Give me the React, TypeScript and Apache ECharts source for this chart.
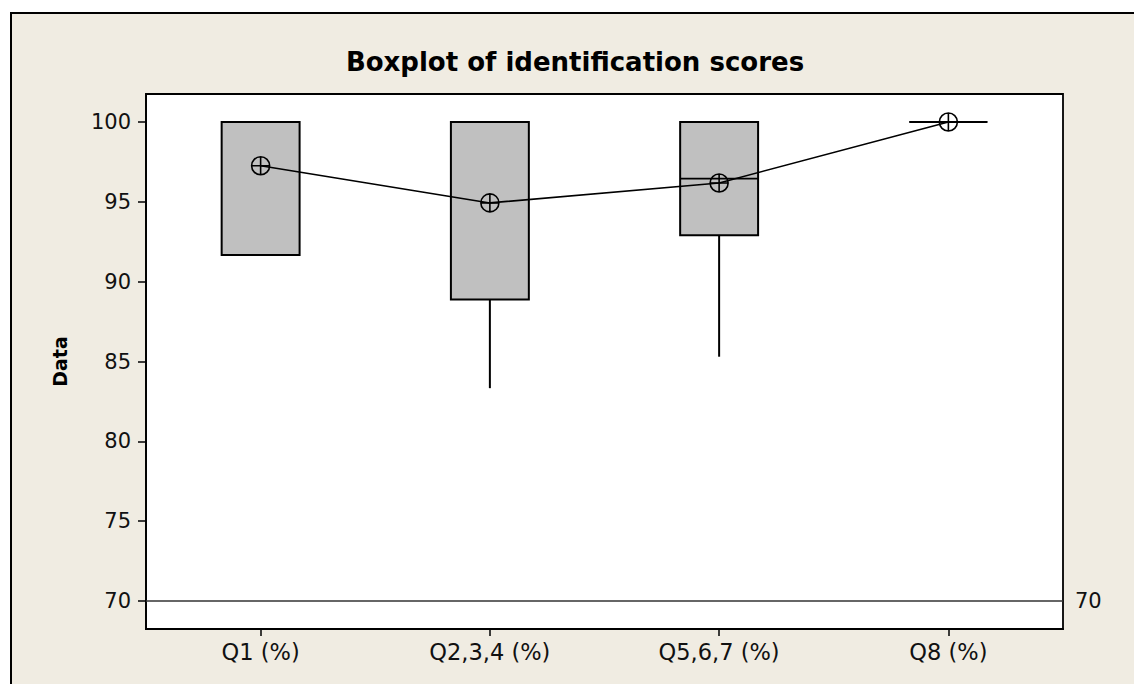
import React, { useEffect, useRef } from "react";
import * as echarts from "echarts";

const categories = ["Q1 (%)", "Q2,3,4 (%)", "Q5,6,7 (%)", "Q8 (%)"];
// [min, Q1, median, Q3, max]
const boxStats = [
  [91.67, 91.67, 100, 100, 100],
  [83.33, 88.89, 100, 100, 100],
  [85.3, 92.9, 96.45, 100, 100],
  [100, 100, 100, 100, 100],
];
const means = [97.26, 94.93, 96.18, 100];
const yTicks = [70, 75, 80, 85, 90, 95, 100];
const refValue = 70;

const FONT = '"DejaVu Sans", Verdana, sans-serif';

export default function App() {
  const ref = useRef<HTMLDivElement>(null);
  useEffect(() => {
    if (!ref.current) return;
    const chart = echarts.init(ref.current, undefined, { renderer: "svg" });
    const boxData = boxStats.map((s, i) => [i, ...s]);
    const option: any = {
      animation: false,
      backgroundColor: "#ffffff",
      textStyle: { fontFamily: FONT },
      graphic: [
        {
          type: "rect",
          z: -100,
          shape: { x: 11, y: 13, width: 1200, height: 720 },
          style: { fill: "#F0ECE2", stroke: "#000", lineWidth: 2 },
          silent: true,
        },
        {
          type: "text",
          x: 575,
          y: 62,
          style: {
            text: "Boxplot of identification scores",
            textAlign: "center",
            textVerticalAlign: "middle",
            font: `bold 26px ${FONT}`,
            fill: "#000",
          },
        },
      ],
      grid: {
        left: 146,
        top: 94,
        right: 71,
        bottom: 55,
        show: true,
        backgroundColor: "#ffffff",
        borderColor: "#000",
        borderWidth: 1.8,
      },
      xAxis: {
        type: "category",
        data: categories,
        axisLine: { show: true, lineStyle: { color: "#000", width: 1.8 } },
        axisTick: { show: true, alignWithLabel: true, length: 7, lineStyle: { color: "#000", width: 1.5 } },
        axisLabel: { color: "#111", fontSize: 22.5, margin: 11, fontFamily: FONT },
        splitLine: { show: false },
      },
      yAxis: {
        type: "value",
        min: 68.25,
        max: 101.75,
        name: "Data",
        nameLocation: "middle",
        nameRotate: 90,
        nameGap: 77,
        nameTextStyle: { fontSize: 19, fontWeight: "bold", color: "#000", fontFamily: FONT },
        axisLine: { show: true, lineStyle: { color: "#000", width: 1.8 } },
        axisTick: { show: true, length: 8, customValues: yTicks, lineStyle: { color: "#000", width: 1.5 } },
        axisLabel: { color: "#111", fontSize: 21, margin: 15, customValues: yTicks, fontFamily: FONT },
        splitLine: { show: false },
      },
      series: [
        {
          type: "custom",
          data: boxData,
          encode: { x: 0, y: [1, 2, 3, 4, 5] },
          z: 2,
          renderItem: (params: any, api: any) => {
            const x = api.value(0);
            const vMin = api.value(1);
            const vQ1 = api.value(2);
            const vMed = api.value(3);
            const vQ3 = api.value(4);
            const vMax = api.value(5);
            const half = (api.size([1, 0])[0] * 0.34) / 2;
            const pMin = api.coord([x, vMin]);
            const pQ1 = api.coord([x, vQ1]);
            const pMed = api.coord([x, vMed]);
            const pQ3 = api.coord([x, vQ3]);
            const pMax = api.coord([x, vMax]);
            const cx = pMed[0];
            const stroke = { stroke: "#000", lineWidth: 2 };
            return {
              type: "group",
              children: [
                {
                  type: "line",
                  shape: { x1: cx, y1: pQ1[1], x2: cx, y2: pMin[1] },
                  style: stroke,
                },
                {
                  type: "line",
                  shape: { x1: cx, y1: pQ3[1], x2: cx, y2: pMax[1] },
                  style: stroke,
                },
                {
                  type: "rect",
                  shape: { x: cx - half, y: pQ3[1], width: half * 2, height: pQ1[1] - pQ3[1] },
                  style: { fill: "#C0C0C0", stroke: "#000", lineWidth: 2 },
                },
                {
                  type: "line",
                  shape: { x1: cx - half, y1: pMed[1], x2: cx + half, y2: pMed[1] },
                  style: { stroke: "#000", lineWidth: 1.8 },
                },
              ],
            };
          },
        },
        {
          type: "line",
          data: means,
          z: 5,
          symbol: "path://M10,0A10,10 0 1,1 10,20A10,10 0 1,1 10,0ZM0,10L20,10M10,0L10,20",
          symbolSize: 18,
          showSymbol: true,
          lineStyle: { color: "#000", width: 1.6 },
          itemStyle: { color: "transparent", borderColor: "#000", borderWidth: 1.6 },
          markLine: {
            silent: true,
            symbol: ["none", "none"],
            data: [{ yAxis: refValue }],
            lineStyle: { color: "#333", type: "solid", width: 1.5 },
            label: {
              show: true,
              position: "end",
              formatter: String(refValue),
              fontSize: 21,
              color: "#111",
              distance: 12,
              fontFamily: FONT,
            },
          },
        },
      ],
    };
    chart.setOption(option);
    return () => chart.dispose();
  }, []);
  return (
    <div
      ref={ref}
      style={{ position: "fixed", left: 0, top: 0, width: 1134, height: 684 }}
    />
  );
}
